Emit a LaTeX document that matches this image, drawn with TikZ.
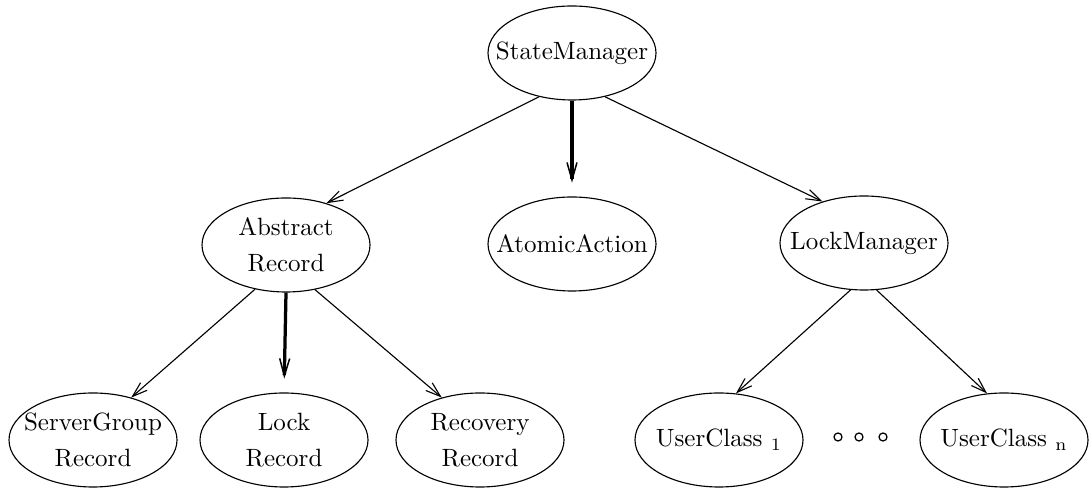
\documentclass[tikz,border=0pt]{standalone}
\usetikzlibrary{shapes.geometric,arrows.meta}
\begin{document}
\begin{tikzpicture}[x=0.4pt,y=-0.4pt,
  cls/.style={ellipse, draw, line width=0.45pt, minimum width=67.2pt,
    minimum height=37.6pt, inner xsep=-40pt, inner ysep=-20pt, align=center,
    font=\fontsize{10}{14.4}\selectfont},
  inh/.style={line width=0.45pt, -{Straight Barb[length=6pt,width=4pt]}},
  inhbold/.style={line width=1.3pt,
    -{Straight Barb[length=7pt,width=4pt,line width=0.6pt]}, shorten >=5.5pt},
  dot/.style={line width=0.5pt}]
  \useasboundingbox (0,0) rectangle (1092,490);

  % class hierarchy
  \node[cls] (sm)  at (572,53)  {StateManager};
  \node[cls] (ar)  at (286,245) {Abstract\\Record};
  \node[cls] (aa)  at (572,244) {AtomicAction};
  \node[cls] (lm)  at (864,243) {LockManager};
  \node[cls] (sgr) at (93,440)  {ServerGroup\\Record};
  \node[cls] (lr)  at (284,440) {Lock\\Record};
  \node[cls] (rr)  at (480,440) {Recovery\\Record};
  \node[cls] (uc1) at (719,440) {UserClass $_1$};
  \node[cls] (ucn) at (1004,440) {UserClass $_{\mathrm{n}}$};

  % ellipsis between the user classes
  \draw[dot] (838,437) circle[radius=1.6pt];
  \draw[dot] (859,437) circle[radius=1.6pt];
  \draw[dot] (883,437) circle[radius=1.6pt];

  % derivation arrows
  \draw[inh] (sm.233) -- (ar.46);
  \draw[inhbold] (sm.south) -- (aa.north);
  \draw[inh] (sm.307) -- (lm.135);
  \draw[inh] (ar.235) -- (sgr.48);
  \draw[inhbold] (ar.south) -- (lr.north);
  \draw[inh] (ar.303) -- (rr.132);
  \draw[inh] (lm.254) -- (uc1.70);
  \draw[inh] (lm.285) -- (ucn.110);
\end{tikzpicture}
\end{document}
